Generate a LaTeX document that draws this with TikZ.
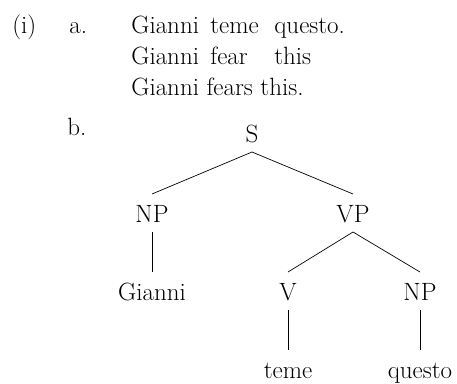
\documentclass[tikz,border=0pt]{standalone}
\begin{document}
\begin{tikzpicture}[x=1pt, y=1pt, line width=0.7pt,
  every node/.style={font=\fontsize{25}{30}\selectfont, inner sep=0pt},
  cat/.style={anchor=base, text height=18pt, text depth=0pt, outer ysep=10pt}]
\useasboundingbox (0,0) rectangle (457,-383);
\node[anchor=base west] (exi) at (12,-33){(i)};
\node[anchor=base west] (exa) at (69,-33){a.};
\node[anchor=base west] (w0) at (131,-33){Gianni};
\node[anchor=base west] (w1) at (210,-33){teme};
\node[anchor=base west] (w2) at (274,-33){questo.};
\node[anchor=base west] (g0) at (131,-64){Gianni};
\node[anchor=base west] (g1) at (210,-64){fear};
\node[anchor=base west] (g2) at (274,-64){this};
\node[anchor=base west] (tr) at (131,-95){Gianni fears this.};
\node[anchor=base west] (exb) at (67,-135){b.};
\node[cat] (tid0) at (252,-142){S};
\node[cat] (tid1) at (152,-222){NP};
\node[cat] (tid2) at (353,-222){VP};
\node[cat] (tid3) at (152,-300){Gianni};
\draw[](tid1.south) -- (tid3.north);
\node[cat] (tid4) at (288,-300){V};
\node[cat] (tid5) at (420,-300){NP};
\node[cat] (tid6) at (288,-378){teme};
\node[cat] (tid7) at (420,-378){questo};
\draw[](tid4.south) -- (tid6.north);
\draw[](tid5.south) -- (tid7.north);
\draw[](tid2.south) -- (tid4.north);
\draw[](tid2.south) -- (tid5.north);
\draw[](tid0.south) -- (tid1.north);
\draw[](tid0.south) -- (tid2.north);
\end{tikzpicture}
\end{document}
